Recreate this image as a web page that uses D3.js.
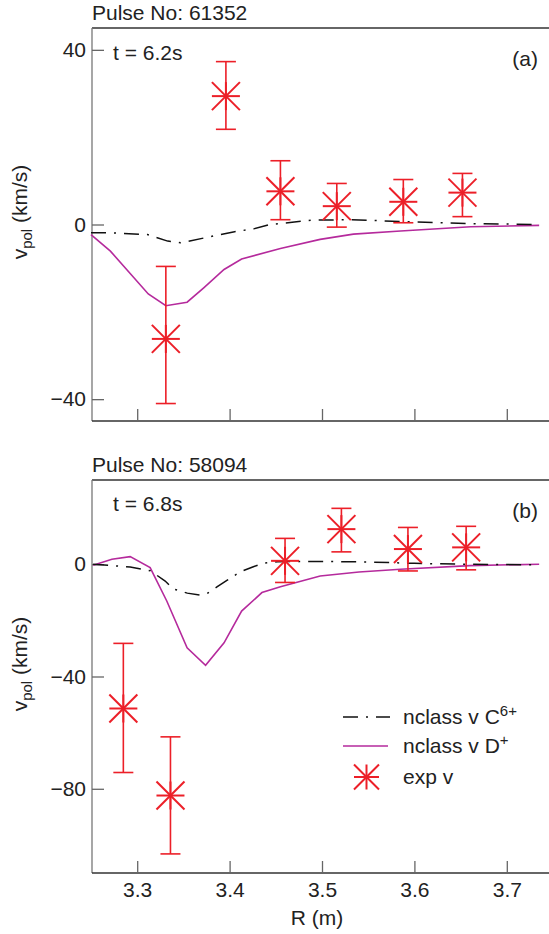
<!DOCTYPE html>
<html><head><meta charset="utf-8">
<script src="https://cdn.jsdelivr.net/npm/d3@7"></script>
<style>
html,body{margin:0;padding:0;background:#fff;}
svg{display:block;font-family:"Liberation Sans",Arial,Helvetica,sans-serif;}
</style></head>
<body><svg id="chart" width="549" height="934"></svg>
<script>
// ---------- data ----------
const X_TICKS = [3.3, 3.4, 3.5, 3.6, 3.7];
const Y_TICKS_A = [-40, 0, 40];
const Y_TICKS_B = [-80, -40, 0];

// panel (a) Pulse 61352, t = 6.2s
const R_EXP_A  = [3.331, 3.396, 3.455, 3.516, 3.588, 3.652];
const V_EXP_A  = [-26.2, 29.4, 7.6, 4.2, 5.2, 7.3];
const LO_EXP_A = [-41.0, 21.8, 1.1, -0.6, 0.4, 1.8];
const HI_EXP_A = [-9.6, 37.3, 14.6, 9.4, 10.3, 11.7];

const R_C_A = [3.25, 3.271, 3.311, 3.333, 3.347, 3.372, 3.404, 3.426, 3.444, 3.49, 3.53, 3.585, 3.66, 3.735];
const V_C_A = [-1.9, -1.9, -2.3, -3.8, -4.2, -3.1, -1.7, -1.0, 0.0, 1.0, 1.1, 0.7, 0.2, 0.0];

const R_D_A = [3.25, 3.271, 3.312, 3.331, 3.354, 3.372, 3.394, 3.413, 3.455, 3.498, 3.534, 3.585, 3.661, 3.735];
const V_D_A = [-2.3, -6.1, -15.9, -18.6, -17.8, -14.5, -10.3, -7.9, -5.5, -3.4, -2.2, -1.5, -0.5, -0.2];

// panel (b) Pulse 58094, t = 6.8s
const R_EXP_B  = [3.285, 3.336, 3.460, 3.521, 3.593, 3.656];
const V_EXP_B  = [-51.4, -82.4, 1.2, 12.5, 5.4, 6.0];
const LO_EXP_B = [-74.2, -103.2, -6.5, 4.4, -2.4, -2.0];
const HI_EXP_B = [-28.2, -61.5, 9.2, 19.9, 13.1, 13.5];

const R_C_B = [3.2523, 3.2924, 3.3141, 3.3303, 3.339, 3.3542, 3.3683, 3.3758, 3.3867, 3.3975, 3.4116, 3.4257, 3.4365, 3.4517, 3.50, 3.55, 3.60, 3.65, 3.735];
const V_C_B = [0, -1.0, -2.3, -6.0, -8.8, -10.3, -11.0, -10.4, -8.0, -5.7, -2.7, -0.9, 0.4, 0.9, 1.0, 0.8, 0.3, 0.0, -0.2];

const R_D_B = [3.2523, 3.2726, 3.2924, 3.314, 3.332, 3.354, 3.374, 3.394, 3.413, 3.435, 3.455, 3.498, 3.54, 3.585, 3.66, 3.735];
const V_D_B = [-0.4, 1.8, 2.7, -1.2, -13.1, -29.8, -36.0, -28.0, -16.7, -10.1, -8.0, -4.2, -2.8, -1.8, -0.5, 0.0];

const LEGEND_LABELS = [["nclass v C", "6+"], ["nclass v D", "+"], ["exp v", ""]];

// ---------- style ----------
const RED = "#ec1f28", MAG = "#b52a9c", TXT = "#222";
const FS = 21;

const svg = d3.select("#chart");
const x = d3.scaleLinear().domain([3.25, 3.75]).range([91, 553]);

function panel(o) {
  const y = d3.scaleLinear().domain(o.ydom).range([o.bottom, o.top]);
  const g = svg.append("g");

  g.append("line").attr("x1", 92).attr("x2", 549).attr("y1", o.top).attr("y2", o.top)
    .attr("stroke", "#333").attr("stroke-width", 1.3);
  g.append("line").attr("x1", 92).attr("x2", 92).attr("y1", o.top).attr("y2", o.bottom)
    .attr("stroke", "#777").attr("stroke-width", 1.3);
  g.append("line").attr("x1", 92).attr("x2", 549).attr("y1", o.bottom).attr("y2", o.bottom)
    .attr("stroke", "#333").attr("stroke-width", 1.5);

  const ya = g.append("g").attr("transform", "translate(92,0)")
    .call(d3.axisLeft(y).tickValues(o.yticks).tickSize(-12).tickPadding(6));
  ya.select(".domain").remove();
  ya.selectAll(".tick line").attr("stroke", "#666").attr("stroke-width", 1.3);
  ya.selectAll(".tick text").attr("font-size", FS).attr("fill", TXT)
    .attr("font-family", "Liberation Sans, Arial, sans-serif");

  const xa = g.append("g").attr("transform", `translate(0,${o.bottom})`)
    .call(d3.axisBottom(x).tickValues(X_TICKS).tickSize(-12).tickPadding(9)
      .tickFormat(o.xlabels ? d3.format(".1f") : ""));
  xa.select(".domain").remove();
  xa.selectAll(".tick line").attr("stroke", "#666").attr("stroke-width", 1.3);
  xa.selectAll(".tick text").attr("font-size", FS).attr("fill", TXT)
    .attr("font-family", "Liberation Sans, Arial, sans-serif");

  const line = d3.line().x(d => x(d[0])).y(d => y(d[1]));
  g.append("path").datum(d3.zip(o.rD, o.vD)).attr("d", line)
    .attr("fill", "none").attr("stroke", MAG).attr("stroke-width", 1.6);
  g.append("path").datum(d3.zip(o.rC, o.vC)).attr("d", line)
    .attr("fill", "none").attr("stroke", "#111").attr("stroke-width", 1.5)
    .attr("stroke-dasharray", "15,8,2,8");

  const pts = d3.range(o.rE.length).map(i => ({r: o.rE[i], v: o.vE[i], lo: o.loE[i], hi: o.hiE[i]}));
  const pg = g.selectAll(".pt").data(pts).join("g").attr("class", "pt");
  pg.append("line").attr("x1", d => x(d.r)).attr("x2", d => x(d.r))
    .attr("y1", d => y(d.lo)).attr("y2", d => y(d.hi))
    .attr("stroke", RED).attr("stroke-width", 1.6);
  ["lo", "hi"].forEach(k => {
    pg.append("line").attr("x1", d => x(d.r) - 10).attr("x2", d => x(d.r) + 10)
      .attr("y1", d => y(d[k])).attr("y2", d => y(d[k]))
      .attr("stroke", RED).attr("stroke-width", 1.6);
  });
  pg.each(function(d) { star(d3.select(this), x(d.r), y(d.v), 14); });

  g.append("text").attr("x", 92).attr("y", o.top - 8).attr("font-size", FS).attr("fill", TXT)
    .text(o.pulse);
  g.append("text").attr("x", 113).attr("y", o.tY).attr("font-size", FS).attr("fill", TXT)
    .text(o.time);
  g.append("text").attr("x", 538).attr("y", o.tagY).attr("font-size", FS).attr("fill", TXT)
    .attr("text-anchor", "end").text(o.tag);

  const yl = g.append("text").attr("transform", `translate(27,${o.ylabC}) rotate(-90)`)
    .attr("text-anchor", "middle").attr("font-size", FS).attr("fill", TXT);
  yl.append("tspan").text("v");
  yl.append("tspan").attr("font-size", 15).attr("dy", 5).text("pol");
  yl.append("tspan").attr("dy", -5).text(" (km/s)");
  return y;
}

function star(sel, cx, cy, s) {
  const segs = [[-s, 0, s, 0], [0, -s, 0, s], [-s, -s, s, s], [-s, s, s, -s]];
  segs.forEach(q => {
    sel.append("line").attr("x1", cx + q[0]).attr("y1", cy + q[1])
      .attr("x2", cx + q[2]).attr("y2", cy + q[3])
      .attr("stroke", RED).attr("stroke-width", 2);
  });
}

panel({top: 28, bottom: 421, ydom: [-45, 45], yticks: Y_TICKS_A, xlabels: false,
  rE: R_EXP_A, vE: V_EXP_A, loE: LO_EXP_A, hiE: HI_EXP_A,
  rC: R_C_A, vC: V_C_A, rD: R_D_A, vD: V_D_A,
  pulse: "Pulse No: 61352", time: "t = 6.2s", tag: "(a)", tY: 60, tagY: 66, ylabC: 212});

panel({top: 480, bottom: 873, ydom: [-110, 30], yticks: Y_TICKS_B, xlabels: true,
  rE: R_EXP_B, vE: V_EXP_B, loE: LO_EXP_B, hiE: HI_EXP_B,
  rC: R_C_B, vC: V_C_B, rD: R_D_B, vD: V_D_B,
  pulse: "Pulse No: 58094", time: "t = 6.8s", tag: "(b)", tY: 511, tagY: 518, ylabC: 664});

svg.append("text").attr("x", 317).attr("y", 925).attr("text-anchor", "middle")
  .attr("font-size", FS).attr("fill", TXT).text("R (m)");

const lg = svg.append("g");
const rows = [717, 746, 777];
lg.append("line").attr("x1", 343).attr("x2", 390).attr("y1", rows[0]).attr("y2", rows[0])
  .attr("stroke", "#111").attr("stroke-width", 1.5).attr("stroke-dasharray", "15,8,2,8");
lg.append("line").attr("x1", 343).attr("x2", 388).attr("y1", rows[1]).attr("y2", rows[1])
  .attr("stroke", MAG).attr("stroke-width", 1.6);
star(lg, 366.5, rows[2], 12.5);
LEGEND_LABELS.forEach((lab, i) => {
  const t = lg.append("text").attr("x", 403).attr("y", rows[i] + 7).attr("font-size", FS).attr("fill", TXT);
  t.append("tspan").text(lab[0]);
  if (lab[1]) t.append("tspan").attr("font-size", 15).attr("dy", -8).text(lab[1]);
});
</script></body></html>
